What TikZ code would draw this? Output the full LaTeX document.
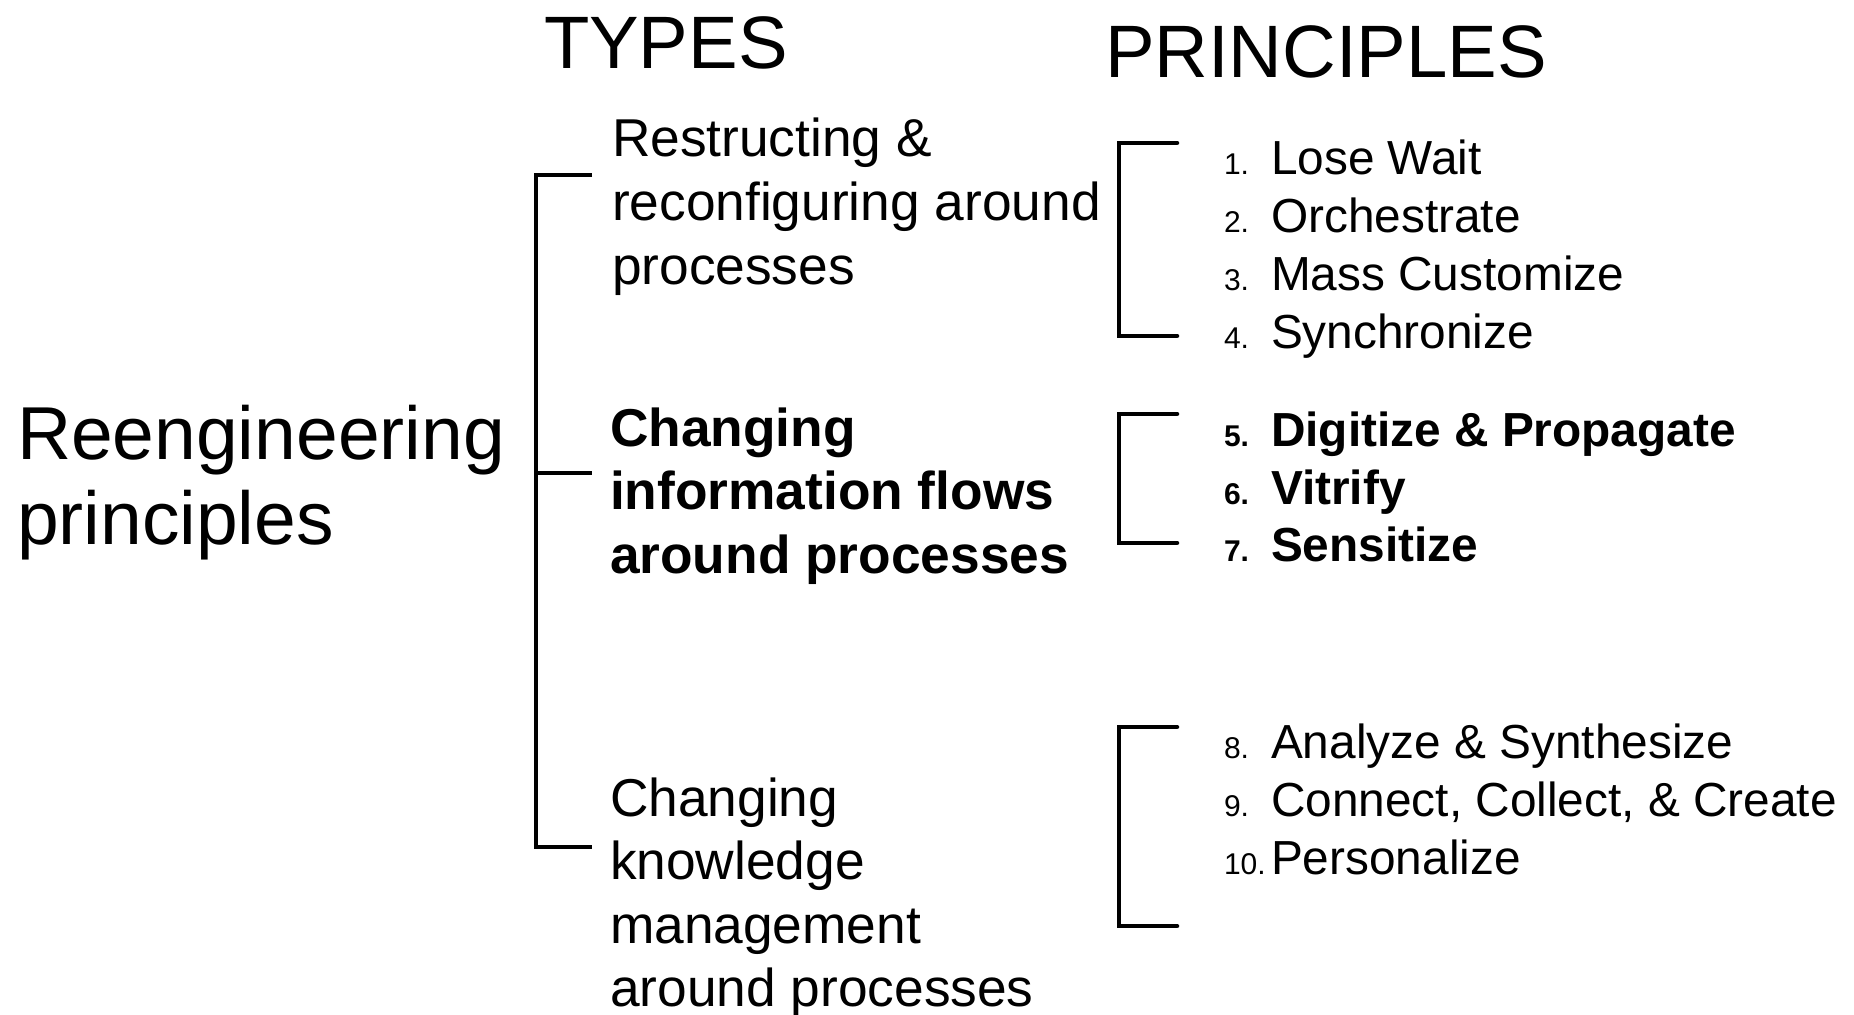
\documentclass[tikz,border=0pt]{standalone}
\usepackage{fontspec}
\setmainfont{Liberation Sans}
\newcommand{\mystack}[2]{\vtop{\baselineskip=#1\relax\lineskiplimit=-100pt\relax #2}}
\begin{document}
\begin{tikzpicture}[x=1pt,y=-1pt,
  txt/.style={inner sep=0pt,outer sep=0pt,anchor=base west},
  head/.style={txt,font=\fontsize{74.3}{80}\selectfont},
  typetxt/.style={txt,font=\fontsize{53.3}{63.5}\selectfont},
  num/.style={txt,font=\fontsize{30}{32}\selectfont},
  item/.style={txt,font=\fontsize{47.8}{52}\selectfont},
  brk/.style={line width=4.5pt,line cap=round,line join=miter}]
\useasboundingbox (0,0) rectangle (1854,1014);
% headings
\node[head] (types) at (544,69) {TYPES};
\node[head] (princ) at (1105,78) {PRINCIPLES};
\node[txt,font=\fontsize{75}{85}\selectfont] (root) at (17,459) {\mystack{85pt}{\hbox{Reengineering}\hbox{principles}}};
% left bracket
\coordinate (lt) at (536,175);
\coordinate (lm) at (536,473);
\coordinate (lb) at (536,847);
\coordinate (lte) at (592,175);
\coordinate (lme) at (592,473);
\coordinate (lbe) at (592,847);
\draw[line width=4pt] (lte) -- (lt) -- (lb) -- (lbe);
\draw[line width=4pt] (lm) -- (lme);
% types
\node[typetxt] (ty1) at (612,157) {\mystack{63.5pt}{\hbox{Restructing \&}\hbox{reconfiguring around}\hbox{processes}}};
\node[typetxt,font=\fontsize{53.3}{63.5}\selectfont\bfseries] (ty2) at (610,446) {\mystack{63.5pt}{\hbox{Changing}\hbox{information flows}\hbox{around processes}}};
\node[typetxt] (ty3) at (610,816) {\mystack{63.5pt}{\hbox{Changing}\hbox{knowledge}\hbox{management}\hbox{around processes}}};
% right brackets
\coordinate (a1) at (1177,143); \coordinate (b1) at (1119,143);
\coordinate (c1) at (1119,336); \coordinate (d1) at (1177,336);
\draw[brk] (a1) -- (b1) -- (c1) -- (d1);
\coordinate (a2) at (1177,414); \coordinate (b2) at (1119,414);
\coordinate (c2) at (1119,543); \coordinate (d2) at (1177,543);
\draw[brk] (a2) -- (b2) -- (c2) -- (d2);
\coordinate (a3) at (1177,727); \coordinate (b3) at (1119,727);
\coordinate (c3) at (1119,926); \coordinate (d3) at (1177,926);
\draw[brk] (a3) -- (b3) -- (c3) -- (d3);
% items
\node[num] (n1) at (1224,174) {1.};  \node[item] (p1) at (1271,174) {Lose Wait};
\node[num] (n2) at (1224,232) {2.};  \node[item] (p2) at (1271,232) {Orchestrate};
\node[num] (n3) at (1224,290) {3.};  \node[item] (p3) at (1271,290) {Mass Customize};
\node[num] (n4) at (1224,348) {4.};  \node[item] (p4) at (1271,348) {Synchronize};
\node[num,font=\fontsize{30}{32}\selectfont\bfseries] (n5) at (1224,446) {5.};
\node[item,font=\fontsize{47.8}{52}\selectfont\bfseries] (p5) at (1271,446) {Digitize \& Propagate};
\node[num,font=\fontsize{30}{32}\selectfont\bfseries] (n6) at (1224,504) {6.};
\node[item,font=\fontsize{47.8}{52}\selectfont\bfseries] (p6) at (1271,504) {Vitrify};
\node[num,font=\fontsize{30}{32}\selectfont\bfseries] (n7) at (1224,561) {7.};
\node[item,font=\fontsize{47.8}{52}\selectfont\bfseries] (p7) at (1271,561) {Sensitize};
\node[num] (n8) at (1224,758) {8.};  \node[item] (p8) at (1271,758) {Analyze \& Synthesize};
\node[num] (n9) at (1224,816) {9.};  \node[item] (p9) at (1271,816) {Connect, Collect, \& Create};
\node[num] (n10) at (1224,874) {10.}; \node[item] (p10) at (1271,874) {Personalize};
\end{tikzpicture}
\end{document}
